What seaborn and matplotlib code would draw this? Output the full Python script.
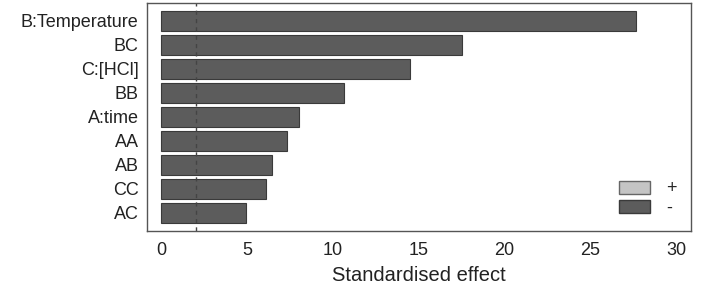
import matplotlib
matplotlib.use("Agg")
import matplotlib.pyplot as plt
import matplotlib.patches as mpatches
import seaborn as sns
import pandas as pd

terms = ["B:Temperature", "BC", "C:[HCl]", "BB", "A:time", "AA", "AB", "CC", "AC"]
effects = [27.65, 17.55, 14.52, 10.68, 8.06, 7.32, 6.49, 6.10, 4.95]
signs = ["-", "-", "-", "-", "-", "-", "-", "-", "-"]
threshold = 2.04

df = pd.DataFrame({"term": terms, "effect": effects, "sign": signs})

sns.set_style("white")
plt.rcParams['font.family'] = ['Liberation Sans', 'DejaVu Sans']

fig = plt.figure(figsize=(7.05, 2.92), dpi=100)
ax = fig.add_axes([147/705, 1 - 231/292, (691-147)/705, (231-3)/292])

sns.barplot(data=df, y="term", x="effect", orient="h", color="#5c5c5c",
            saturation=1, width=0.84, edgecolor="#3a3a3a", linewidth=0.8, ax=ax)

ax.axvline(threshold, color="#444444", linestyle=(0, (3, 3)), linewidth=1)

ax.set_xlim(-0.82, 30.87)
ax.set_ylim(8.77, -0.75)
ax.set_xticks([0, 5, 10, 15, 20, 25, 30])
ax.tick_params(axis="x", direction="in", length=4, width=1, color="#555555",
               labelsize=13, pad=8, labelcolor="#222222")
ax.tick_params(axis="y", length=0, labelsize=13, pad=6, labelcolor="#222222")
ax.set_ylabel("")
ax.set_xlabel("Standardised effect", fontsize=14.5, color="#222222", labelpad=5)
for side in ["left", "bottom", "top", "right"]:
    ax.spines[side].set_visible(True)
    ax.spines[side].set_color("#555555")
    ax.spines[side].set_linewidth(1)

handles = [mpatches.Patch(facecolor="#c4c4c4", edgecolor="#666666", label="+"),
           mpatches.Patch(facecolor="#5c5c5c", edgecolor="#3a3a3a", label="-")]
ax.legend(handles=handles, loc="lower right", frameon=False, fontsize=13,
          handlelength=1.72, handleheight=0.72, handletextpad=0.9, labelspacing=0.12,
          borderaxespad=0.5, borderpad=0.3)

fig.savefig("out.png", dpi=100)
